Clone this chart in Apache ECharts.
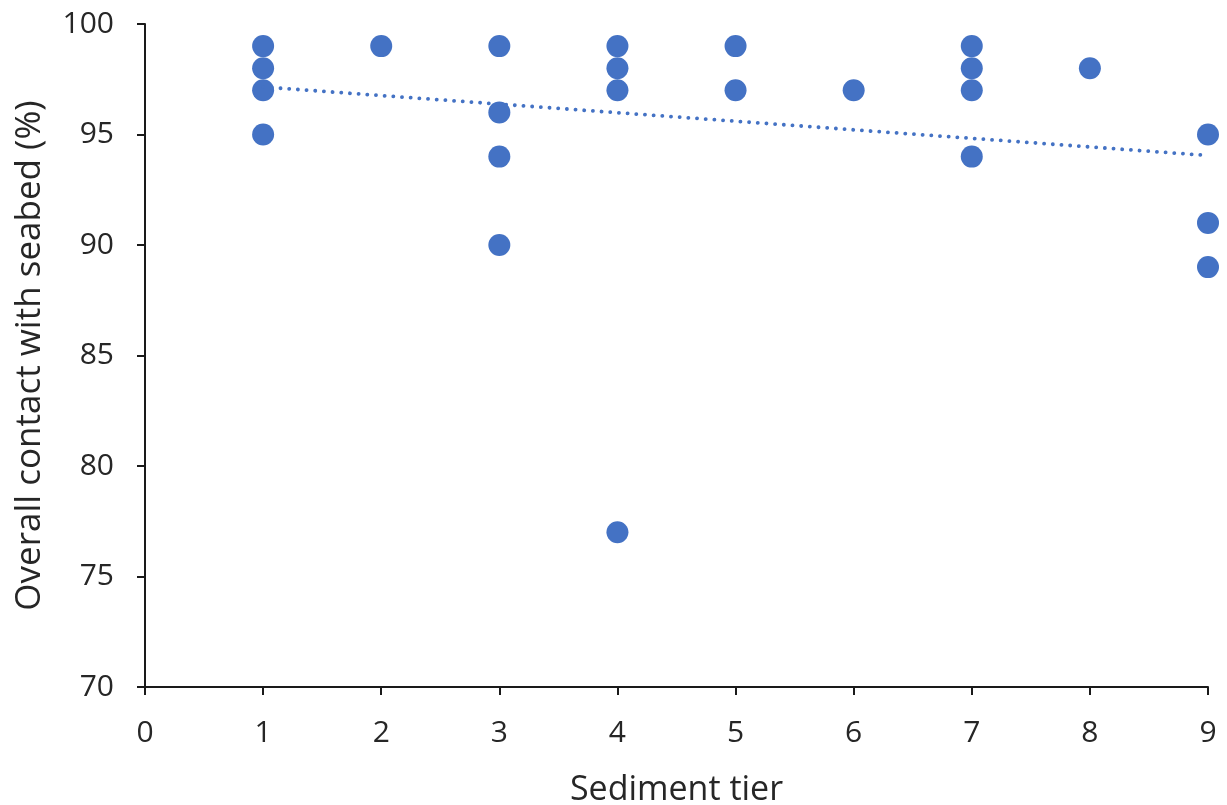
<!DOCTYPE html>
<html>
<head>
<meta charset="utf-8">
<title>Overall contact with seabed by sediment tier</title>
<script src="https://cdn.jsdelivr.net/npm/echarts@6/dist/echarts.min.js"></script>
<style>
  html, body { margin: 0; padding: 0; background: #ffffff; }
  #chart { width: 1227px; height: 805px; }
</style>
</head>
<body>
<div id="chart"></div>
<script>
// Sediment tier of each observation and its overall seabed contact (%)
const tiers   = [1, 1, 1, 1, 2, 3, 3, 3, 3, 4, 4, 4, 4, 5, 5, 6, 7, 7, 7, 7, 8, 9, 9, 9];
const contact = [99, 98, 97, 95, 99, 99, 96, 94, 90, 99, 98, 97, 77, 99, 97, 97, 99, 98, 97, 94, 98, 95, 91, 89];

// Linear trendline, drawn between its end points at tier 1 and tier 9
const trendTiers  = [1, 9];
const trendValues = [97.15, 94.05];

// Axis ranges and ticks
const xTicks = [0, 1, 2, 3, 4, 5, 6, 7, 8, 9];
const yTicks = [70, 75, 80, 85, 90, 95, 100];

const pointColor = '#4472C4';
const axisColor = '#1a1a1a';
const textColor = '#262626';
const labelFont = '"Open Sans", Lato, "DejaVu Sans", sans-serif';

const points = tiers.map((t, i) => [t, contact[i]]);
const trend = trendTiers.map((t, i) => [t, trendValues[i]]);

const chart = echarts.init(document.getElementById('chart'), null, { renderer: 'canvas' });

chart.setOption({
  animation: false,
  backgroundColor: '#ffffff',
  grid: {
    left: 145, right: 19, top: 24, bottom: 118,
    containLabel: false,
    outerBoundsMode: 'none'
  },
  xAxis: {
    type: 'value',
    min: xTicks[0],
    max: xTicks[xTicks.length - 1],
    interval: 1,
    name: 'Sediment tier',
    nameLocation: 'middle',
    nameGap: 86,
    nameTextStyle: { color: textColor, fontSize: 34, fontFamily: labelFont },
    axisLine: { show: true, lineStyle: { color: axisColor, width: 2 } },
    axisTick: { show: true, length: 8, lineStyle: { color: axisColor, width: 2 } },
    axisLabel: { color: textColor, fontSize: 30, fontFamily: labelFont, margin: 31 },
    splitLine: { show: false }
  },
  yAxis: {
    type: 'value',
    min: yTicks[0],
    max: yTicks[yTicks.length - 1],
    interval: 5,
    name: 'Overall contact with seabed (%)',
    nameLocation: 'middle',
    nameGap: 97,
    nameTextStyle: { color: textColor, fontSize: 35, fontFamily: labelFont },
    axisLine: { show: true, lineStyle: { color: axisColor, width: 2 } },
    axisTick: { show: true, length: 8, lineStyle: { color: axisColor, width: 2 } },
    axisLabel: { color: textColor, fontSize: 30, fontFamily: labelFont, margin: 31 },
    splitLine: { show: false }
  },
  series: [
    {
      type: 'scatter',
      data: points,
      symbol: 'circle',
      symbolSize: 22,
      itemStyle: { color: pointColor, opacity: 1 },
      z: 2
    },
    {
      type: 'line',
      data: trend,
      symbol: 'none',
      lineStyle: { color: pointColor, width: 3.8, type: [0.1, 8.6], cap: 'round' },
      z: 3
    }
  ]
});
</script>
</body>
</html>
